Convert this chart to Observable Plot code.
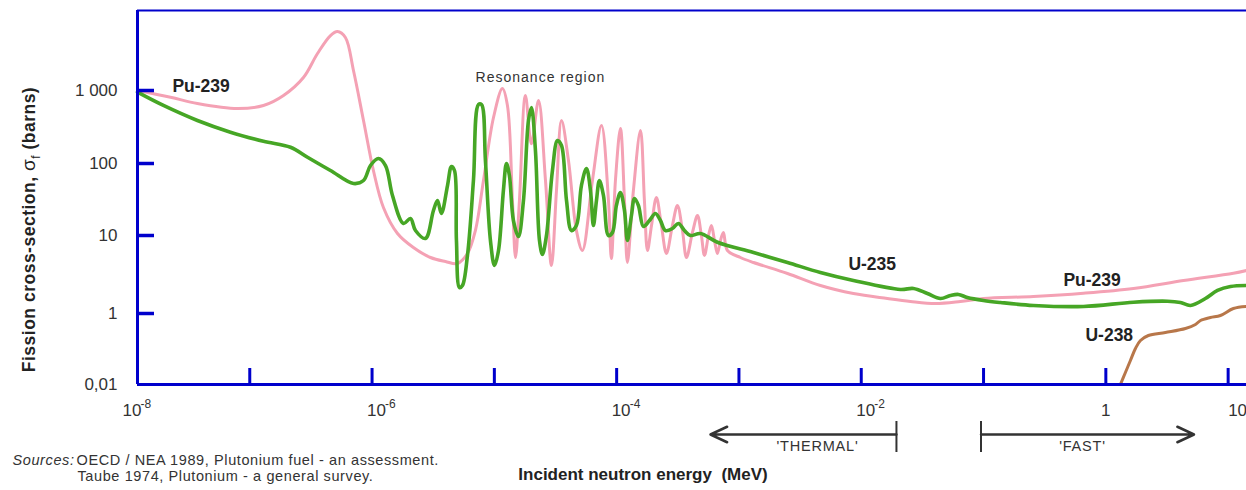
<!DOCTYPE html>
<html>
<head>
<meta charset="utf-8">
<script src="https://cdn.jsdelivr.net/npm/d3@7"></script>
<script src="https://cdn.jsdelivr.net/npm/@observablehq/plot@0.6"></script>
<style>
  html, body { margin: 0; padding: 0; background: #fff; }
  #chart svg { display: block; }
</style>
</head>
<body>
<div id="chart"></div>
<script>
// ---- Data: [log10(E / MeV), log10(sigma_f / barns)] ----
const pu239_log10 = [
  [-7.918,3.000],[-7.648,2.908],[-7.428,2.822],[-7.101,2.753],[-6.888,2.795],[-6.724,2.932],
  [-6.561,3.178],[-6.446,3.507],[-6.340,3.753],[-6.283,3.808],[-6.218,3.726],[-6.152,3.274],
  [-6.070,2.589],[-5.989,1.903],[-5.907,1.389],[-5.792,1.028],[-5.662,0.846],[-5.522,0.718],
  [-5.400,0.667],[-5.302,0.641],[-5.220,0.769],[-5.155,1.069],[-5.089,1.764],[-5.007,2.630],
  [-4.934,3.027],[-4.893,2.795],[-4.852,1.486],[-4.827,0.718],[-4.795,1.486],[-4.746,2.932],
  [-4.697,2.270],[-4.639,2.863],[-4.582,1.764],[-4.533,0.615],[-4.492,1.625],[-4.451,2.589],
  [-4.394,2.041],[-4.329,1.069],[-4.280,0.808],[-4.198,1.764],[-4.124,2.521],[-4.067,1.486],
  [-4.043,0.705],[-4.010,1.764],[-3.969,2.479],[-3.936,1.486],[-3.912,0.654],[-3.863,1.625],
  [-3.805,2.452],[-3.773,1.486],[-3.748,0.808],[-3.715,1.139],[-3.675,1.528],[-3.634,1.139],
  [-3.593,0.769],[-3.544,1.139],[-3.503,1.417],[-3.462,1.069],[-3.429,0.718],[-3.380,1.042],
  [-3.339,1.278],[-3.307,1.000],[-3.282,0.744],[-3.249,1.000],[-3.225,1.139],[-3.200,0.936],
  [-3.176,0.769],[-3.151,0.936],[-3.127,1.042],[-3.094,0.808],[-2.988,0.718],[-2.881,0.654],
  [-2.603,0.513],[-2.334,0.359],[-2.064,0.256],[-1.786,0.192],[-1.598,0.154],[-1.393,0.128],
  [-1.189,0.154],[-1.001,0.192],[-0.592,0.218],[-0.183,0.260],[0.226,0.321],[0.635,0.423],
  [1.043,0.517],[1.150,0.551]
];
const u235_log10 = [
  [-7.918,2.977],[-7.706,2.795],[-7.428,2.589],[-7.158,2.429],[-6.888,2.305],[-6.667,2.223],
  [-6.528,2.086],[-6.340,1.903],[-6.152,1.722],[-6.070,1.764],[-6.013,1.972],[-5.948,2.068],
  [-5.890,1.972],[-5.833,1.556],[-5.743,1.167],[-5.686,1.236],[-5.645,1.069],[-5.563,0.962],
  [-5.498,1.347],[-5.465,1.486],[-5.433,1.306],[-5.383,1.694],[-5.351,1.958],[-5.326,1.903],
  [-5.310,0.936],[-5.285,0.333],[-5.261,0.359],[-5.220,0.744],[-5.171,1.764],[-5.130,2.808],
  [-5.105,2.808],[-5.073,2.041],[-5.032,0.936],[-4.999,0.615],[-4.966,0.808],[-4.926,1.625],
  [-4.901,2.000],[-4.877,1.833],[-4.844,1.208],[-4.803,0.987],[-4.762,1.486],[-4.721,2.589],
  [-4.697,2.767],[-4.664,2.178],[-4.631,0.936],[-4.607,0.756],[-4.574,1.000],[-4.525,1.903],
  [-4.484,2.315],[-4.451,2.247],[-4.410,1.486],[-4.370,1.069],[-4.329,1.139],[-4.288,1.694],
  [-4.247,1.931],[-4.214,1.625],[-4.190,1.139],[-4.165,1.486],[-4.141,1.764],[-4.108,1.556],
  [-4.067,1.000],[-4.034,1.042],[-4.002,1.417],[-3.969,1.597],[-3.936,1.347],[-3.912,0.936],
  [-3.879,1.278],[-3.854,1.514],[-3.822,1.417],[-3.781,1.125],[-3.732,1.208],[-3.683,1.306],
  [-3.642,1.208],[-3.601,1.069],[-3.544,1.097],[-3.495,1.167],[-3.446,1.069],[-3.397,1.000],
  [-3.315,1.028],[-3.176,0.914],[-2.881,0.782],[-2.603,0.654],[-2.334,0.526],[-2.064,0.423],
  [-1.680,0.308],[-1.573,0.321],[-1.459,0.256],[-1.352,0.192],[-1.271,0.231],[-1.205,0.244],
  [-1.132,0.205],[-1.001,0.167],[-0.862,0.141],[-0.592,0.103],[-0.183,0.090],[0.226,0.145],
  [0.504,0.158],[0.610,0.141],[0.692,0.103],[0.814,0.192],[0.913,0.295],[1.019,0.346],
  [1.150,0.359]
];
const u238_log10 = [
  [0.119,-2.000],[0.160,-1.662],[0.201,-1.324],[0.242,-0.986],[0.283,-0.761],[0.348,-0.620],
  [0.487,-0.535],[0.651,-0.423],[0.733,-0.310],[0.774,-0.197],[0.855,-0.113],[0.937,-0.056],
  [1.043,0.064],[1.150,0.090]
];

// ---- Axes: ticks and labels ----
const xTickValues = [1e-7, 1e-6, 1e-5, 1e-4, 1e-3, 1e-2, 1e-1, 1, 10];
const xPowerLabels = [-8, -6, -4, -2];          // shown as 10^p
const xOneLabel = [{E: 1, text: "1"}];
const xTenLabel = [{E: 10, text: "10"}];
const yTickValues = [1000, 100, 10, 1];
const yLabelValues = [1000, 100, 10, 1, 0.01];
const yLabelTexts = ["1 000", "100", "10", "1", "0,01"];

// ---- Annotations ----
const curveLabelTexts = ["Pu-239", "U-235", "Pu-239", "U-238"];
const curveLabelE = [2.33e-8, 7.85e-3, 0.45, 0.681];
const curveLabelSigma = [1153, 4.31, 2.65, 0.24];
const resonanceLabel = {text: "Resonance region", E: 2.38e-5, sigma: 1507};
const rangeNames = ["'THERMAL'", "'FAST'"];
const rangeFrom = [0.0194, 0.0953];
const rangeTo = [5.85e-4, 5.26];
const rangeLabelE = [4.39e-3, 0.644];
const yTitle = "Fission cross-section, σf (barns)";
const xTitle = "Incident neutron energy\u00a0 (MeV)";
const sourcesLead = "Sources:";
const sourceLines = ["OECD / NEA 1989, Plutonium fuel - an assessment.", "Taube 1974, Plutonium - a general survey."];

// ---- Build tables ----
const toRows = (arr) => arr.map(([le, ls]) => ({E: 10 ** le, sigma: 10 ** ls}));
const pu239 = toRows(pu239_log10);
const u235 = toRows(u235_log10);
const u238 = toRows(u238_log10);
const powerRows = xPowerLabels.map(p => ({E: 10 ** p, exp: String(p)}));
const yLabelRows = yLabelValues.map((v, i) => ({v, text: yLabelTexts[i]}));
const curveLabelRows = curveLabelTexts.map((t, i) => ({text: t, E: curveLabelE[i], sigma: curveLabelSigma[i]}));
const rangeRows = rangeNames.map((n, i) => ({name: n, from: rangeFrom[i], to: rangeTo[i], labelE: rangeLabelE[i]}));

const xDomain = [1.208e-8, 14.13];
const yDomain = [0.01, 1, 10, 100, 1000, 12474];
const yRange = [384, 313, 235, 163, 90, 10];

const BLUE = "#0000cc";
const PINK = "#f4a1b4";
const GREEN = "#46a625";
const BROWN = "#b8774a";
const TXT = "#222";
const yBottom = yDomain[0];
const yTop = yDomain[yDomain.length - 1];

const svg = Plot.plot({
  width: 1246,
  height: 490,
  marginLeft: 137,
  marginRight: 0,
  marginTop: 10,
  marginBottom: 106,
  style: {fontFamily: '"Liberation Sans", Arial, sans-serif', background: "#fff", overflow: "visible"},
  x: {type: "log", domain: xDomain, axis: null},
  y: {type: "log", domain: yDomain, range: yRange, axis: null},
  marks: [
    Plot.line(pu239, {x: "E", y: "sigma", stroke: PINK, strokeWidth: 3, curve: "catmull-rom"}),
    Plot.line(u235, {x: "E", y: "sigma", stroke: GREEN, strokeWidth: 3.6, curve: "catmull-rom"}),
    Plot.line(u238, {x: "E", y: "sigma", stroke: BROWN, strokeWidth: 3, curve: "catmull-rom"}),

    // frame (left, bottom, top)
    Plot.ruleX([xDomain[0]], {stroke: BLUE, strokeWidth: 3}),
    Plot.ruleY([yBottom], {stroke: BLUE, strokeWidth: 3}),
    Plot.ruleY([yTop], {stroke: BLUE, strokeWidth: 2}),

    // inward ticks
    Plot.ruleX(xTickValues, {x: d => d, insetTop: 358, stroke: BLUE, strokeWidth: 3}),
    Plot.ruleY(yTickValues, {y: d => d, insetRight: 1092, stroke: BLUE, strokeWidth: 3.5}),

    // y tick labels
    Plot.text(yLabelRows, {y: "v", text: "text", frameAnchor: "left", textAnchor: "end", dx: -20, fontSize: 17, fill: "#333"}),

    // x tick labels
    Plot.text(powerRows, {x: "E", text: () => "10", frameAnchor: "bottom", textAnchor: "start", dx: -5, dy: 31, fontSize: 17, fill: "#333"}),
    Plot.text(powerRows, {x: "E", text: "exp", frameAnchor: "bottom", textAnchor: "start", dx: 13, dy: 23, fontSize: 12, fill: "#333"}),
    Plot.text(xTenLabel, {x: "E", text: "text", frameAnchor: "bottom", textAnchor: "start", dy: 31, fontSize: 17, fill: "#333"}),
    Plot.text(xOneLabel, {x: "E", text: "text", frameAnchor: "bottom", textAnchor: "middle", dy: 31, fontSize: 17, fill: "#333"}),

    // axis titles
    Plot.text([yTitle], {text: d => d, frameAnchor: "left", textAnchor: "middle", rotate: -90, dx: -108, dy: 32, fontSize: 17.5, fontWeight: "bold", fill: TXT}),
    Plot.text([xTitle], {text: d => d, frameAnchor: "bottom", textAnchor: "middle", dx: -49, dy: 95, fontSize: 17, fontWeight: "bold", fill: TXT}),

    // curve labels
    Plot.text(curveLabelRows, {x: "E", y: "sigma", text: "text", textAnchor: "start", fontSize: 17.5, fontWeight: "bold", fill: TXT}),
    Plot.text([resonanceLabel], {x: "E", y: "sigma", text: "text", textAnchor: "middle", fontSize: 14, fill: "#333"}),

    // thermal / fast ranges
    Plot.arrow(rangeRows, {x1: "from", x2: "to", y1: () => yBottom, y2: () => yBottom, dy: 50, stroke: "#333", strokeWidth: 2.5, headLength: 11, headAngle: 50}),
    Plot.ruleX(rangeRows, {x: "from", insetTop: 411, insetBottom: -68, stroke: "#333", strokeWidth: 2}),
    Plot.text(rangeRows, {x: "labelE", text: "name", frameAnchor: "bottom", textAnchor: "middle", dy: 66, fontSize: 14.5, fill: "#333"}),

    // sources
    Plot.text([sourcesLead], {text: d => d, frameAnchor: "bottom-left", textAnchor: "start", dx: -125, dy: 80, fontSize: 14.5, fontStyle: "italic", fill: "#333"}),
    Plot.text([sourceLines[0]], {text: d => d, frameAnchor: "bottom-left", textAnchor: "start", dx: -61, dy: 80, fontSize: 14.5, fill: "#333"}),
    Plot.text([sourceLines[1]], {text: d => d, frameAnchor: "bottom-left", textAnchor: "start", dx: -60, dy: 96, fontSize: 14.5, fill: "#333"})
  ]
});

document.getElementById("chart").append(svg);

// Post-styling of a few texts (letter spacing, subscript)
const root = d3.select(svg);
const byText = (t) => root.selectAll("text").filter(function () { return this.textContent === t; });
byText(resonanceLabel.text).style("letter-spacing", "1px");
byText(sourcesLead).style("letter-spacing", "0.6px");
sourceLines.forEach(t => byText(t).style("letter-spacing", "0.6px"));
rangeNames.forEach(t => byText(t).style("letter-spacing", "0.8px"));

const yt = byText(yTitle);
if (!yt.empty()) {
  yt.style("letter-spacing", "0.5px");
  yt.text(null);
  yt.append("tspan").text("Fission cross-section, ");
  yt.append("tspan").attr("font-weight", "normal").attr("font-size", 19).text("σ");
  yt.append("tspan").attr("font-weight", "normal").attr("font-size", 12).attr("dy", 5).text("f");
  yt.append("tspan").attr("dy", -5).text(" (barns)");
}
</script>
</body>
</html>
